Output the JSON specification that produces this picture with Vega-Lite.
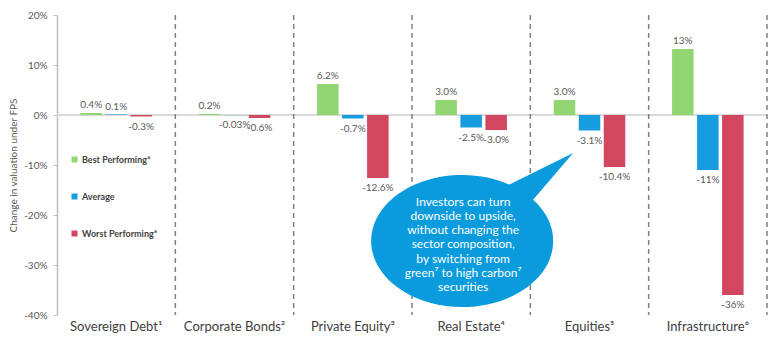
{
  "$schema": "https://vega.github.io/schema/vega-lite/v6.json",
  "width": 710,
  "height": 300,
  "autosize": {"type": "none"},
  "padding": {"left": 57, "top": 15, "right": 13, "bottom": 30},
  "background": "white",
  "config": {
    "view": {"stroke": null},
    "font": "Lato",
    "text": {"font": "Lato"}
  },
  "datasets": {
    "bars": [
      {"category": "Sovereign Debt¹", "series": "Best Performing*", "value": 0.4, "label": "0.4%"},
      {"category": "Sovereign Debt¹", "series": "Average", "value": 0.1, "label": "0.1%"},
      {"category": "Sovereign Debt¹", "series": "Worst Performing*", "value": -0.3, "label": "-0.3%"},
      {"category": "Corporate Bonds²", "series": "Best Performing*", "value": 0.2, "label": "0.2%"},
      {"category": "Corporate Bonds²", "series": "Average", "value": -0.03, "label": "-0.03%"},
      {"category": "Corporate Bonds²", "series": "Worst Performing*", "value": -0.6, "label": "-0.6%"},
      {"category": "Private Equity³", "series": "Best Performing*", "value": 6.2, "label": "6.2%"},
      {"category": "Private Equity³", "series": "Average", "value": -0.7, "label": "-0.7%"},
      {"category": "Private Equity³", "series": "Worst Performing*", "value": -12.6, "label": "-12.6%"},
      {"category": "Real Estate⁴", "series": "Best Performing*", "value": 3.0, "label": "3.0%"},
      {"category": "Real Estate⁴", "series": "Average", "value": -2.5, "label": "-2.5%"},
      {"category": "Real Estate⁴", "series": "Worst Performing*", "value": -3.0, "label": "-3.0%"},
      {"category": "Equities⁵", "series": "Best Performing*", "value": 3.0, "label": "3.0%"},
      {"category": "Equities⁵", "series": "Average", "value": -3.1, "label": "-3.1%"},
      {"category": "Equities⁵", "series": "Worst Performing*", "value": -10.4, "label": "-10.4%"},
      {"category": "Infrastructure⁶", "series": "Best Performing*", "value": 13.2, "label": "13%"},
      {"category": "Infrastructure⁶", "series": "Average", "value": -11, "label": "-11%"},
      {"category": "Infrastructure⁶", "series": "Worst Performing*", "value": -36, "label": "-36%"}
    ],
    "cats": [
      {"category": "Sovereign Debt¹"},
      {"category": "Corporate Bonds²"},
      {"category": "Private Equity³"},
      {"category": "Real Estate⁴"},
      {"category": "Equities⁵"},
      {"category": "Infrastructure⁶"}
    ],
    "callout": [
      {"category": "Real Estate⁴", "value": -25.9, "text": ["Investors can turn", "downside to upside,", "without changing the", "sector composition,", "by switching from", "green⁷ to high carbon⁷", "securities"]}
    ]
  },
  "encoding": {
    "x": {
      "field": "category",
      "type": "nominal",
      "sort": ["Sovereign Debt¹", "Corporate Bonds²", "Private Equity³", "Real Estate⁴", "Equities⁵", "Infrastructure⁶"],
      "scale": {"paddingInner": 0, "paddingOuter": 0},
      "axis": {
        "title": null,
        "labelAngle": 0,
        "ticks": false,
        "domain": false,
        "labelPadding": 5,
        "labelFontSize": 13,
        "labelColor": "#404040",
        "labelFont": "Lato"
      }
    }
  },
  "layer": [
    {
      "data": {"name": "cats"},
      "mark": {"type": "rule", "color": "#D9D9D9", "strokeWidth": 1.5},
      "encoding": {
        "x": null,
        "y": {"datum": 0, "type": "quantitative"}
      }
    },
    {
      "data": {"name": "cats"},
      "mark": {"type": "rule", "color": "#808080", "strokeWidth": 1.5, "strokeDash": [5, 4]},
      "encoding": {
        "x": {"field": "category", "type": "nominal", "bandPosition": 1}
      }
    },
    {
      "data": {"name": "bars"},
      "mark": {"type": "bar"},
      "encoding": {
        "xOffset": {
          "field": "series",
          "type": "nominal",
          "sort": ["Best Performing*", "Average", "Worst Performing*"],
          "scale": {"paddingInner": 0.14, "paddingOuter": 0.935}
        },
        "y": {
          "field": "value",
          "type": "quantitative",
          "scale": {"domain": [-40, 20], "nice": false},
          "axis": {
            "values": [-40, -30, -20, -10, 0, 10, 20],
            "labelExpr": "datum.value + '%'",
            "grid": false,
            "domainColor": "#BFBFBF",
            "domainWidth": 1.5,
            "tickColor": "#BFBFBF",
            "tickSize": 4,
            "labelFontSize": 10,
            "labelColor": "#595959",
            "labelPadding": 6,
            "title": "Change in valuation under FPS",
            "titleFontSize": 10,
            "titleFontWeight": "normal",
            "titleColor": "#595959",
            "titlePadding": 5
          }
        },
        "color": {
          "field": "series",
          "type": "nominal",
          "sort": ["Best Performing*", "Average", "Worst Performing*"],
          "scale": {"domain": ["Best Performing*", "Average", "Worst Performing*"], "range": ["#92D673", "#179DDF", "#D0475F"]},
          "legend": {
            "title": null,
            "orient": "none",
            "legendX": 13,
            "legendY": 140,
            "direction": "vertical",
            "symbolType": "square",
            "symbolSize": 36,
            "symbolStrokeWidth": 0,
            "labelFontSize": 9,
            "labelFontWeight": "bold",
            "labelColor": "#404040",
            "labelOffset": 3,
            "rowPadding": 27
          }
        }
      }
    },
    {
      "data": {"name": "bars"},
      "transform": [{"filter": "datum.value >= 0"}],
      "mark": {"type": "text", "baseline": "alphabetic", "dy": -5, "fontSize": 10, "color": "#595959"},
      "encoding": {
        "xOffset": {"field": "series", "type": "nominal", "sort": ["Best Performing*", "Average", "Worst Performing*"]},
        "y": {"field": "value", "type": "quantitative"},
        "text": {"field": "label"}
      }
    },
    {
      "data": {"name": "bars"},
      "transform": [{"filter": "datum.value < 0"}],
      "mark": {"type": "text", "baseline": "top", "dy": 5, "fontSize": 10, "color": "#595959"},
      "encoding": {
        "xOffset": {"field": "series", "type": "nominal", "sort": ["Best Performing*", "Average", "Worst Performing*"]},
        "y": {"field": "value", "type": "quantitative"},
        "text": {"field": "label"}
      }
    },
    {
      "data": {"name": "callout"},
      "mark": {
        "type": "point",
        "filled": true,
        "opacity": 1,
        "color": "#0A9BDD",
        "size": 40000,
        "strokeWidth": 0,
        "shape": "M 0.82 -0.035 C 0.82 0.3295 0.4126 0.625 -0.09 0.625 C -0.5926 0.625 -1 0.3295 -1 -0.035 C -1 -0.3995 -0.5926 -0.695 -0.09 -0.695 C 0.4126 -0.695 0.82 -0.3995 0.82 -0.035 Z"
      },
      "encoding": {
        "y": {"field": "value", "type": "quantitative"}
      }
    },
    {
      "data": {"name": "callout"},
      "mark": {
        "type": "point",
        "filled": true,
        "opacity": 1,
        "color": "#0A9BDD",
        "size": 40000,
        "strokeWidth": 0,
        "shape": "M 1.02 -0.915 L 0.54 -0.355 L 0.27 -0.545 Z"
      },
      "encoding": {
        "y": {"field": "value", "type": "quantitative"}
      }
    },
    {
      "data": {"name": "callout"},
      "mark": {"type": "text", "color": "white", "fontSize": 12, "lineHeight": 14.3, "align": "center", "baseline": "middle", "dx": -8, "dy": -43, "font": "Lato"},
      "encoding": {
        "y": {"field": "value", "type": "quantitative"},
        "text": {"field": "text"}
      }
    }
  ]
}
